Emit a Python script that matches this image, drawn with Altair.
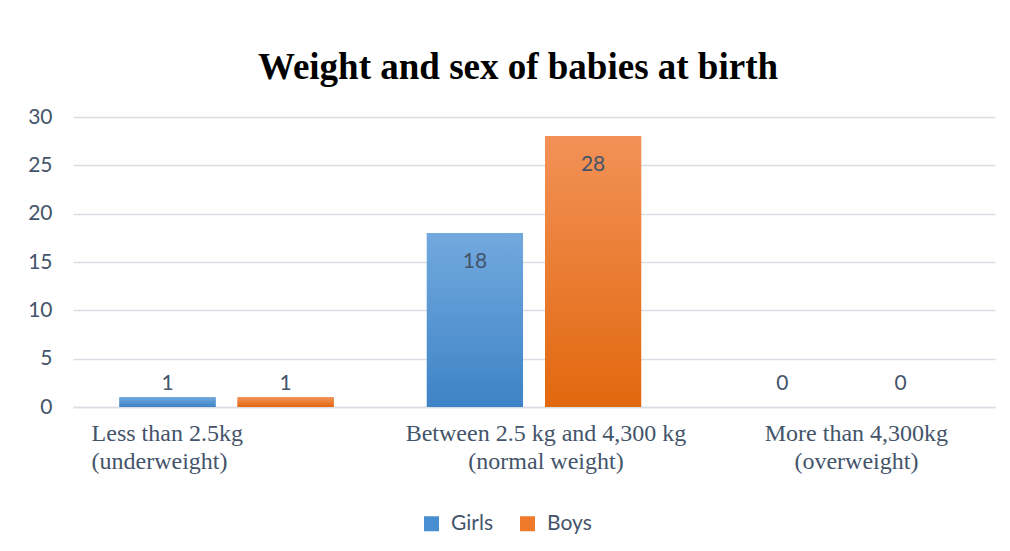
import altair as alt
import pandas as pd

# ---- data ----
categories = [
    "Less than 2.5kg\n(underweight)",
    "Between 2.5 kg and 4,300 kg\n(normal weight)",
    "More than 4,300kg\n(overweight)",
]
series = ["Girls", "Boys"]
girls = [1, 18, 0]
boys = [1, 28, 0]
y_ticks = [0, 5, 10, 15, 20, 25, 30]

rows = []
for c, g, b in zip(categories, girls, boys):
    rows.append({"category": c, "sex": "Girls", "count": g})
    rows.append({"category": c, "sex": "Boys", "count": b})
df = pd.DataFrame(rows)

SLATE = "#44546A"
GRID = "#D9DDE4"

blue_grad = alt.Gradient(
    gradient="linear", x1=0, x2=0, y1=0, y2=1,
    stops=[alt.GradientStop(color="#72A9DE", offset=0),
           alt.GradientStop(color="#3E83C6", offset=1)],
)
orange_grad = alt.Gradient(
    gradient="linear", x1=0, x2=0, y1=0, y2=1,
    stops=[alt.GradientStop(color="#F29157", offset=0),
           alt.GradientStop(color="#E2680E", offset=1)],
)

x_axis = alt.Axis(
    title=None,
    ticks=False,
    tickSize=0,
    domain=True,
    domainColor=GRID,
    domainWidth=1.3,
    labelFont="Liberation Serif",
    labelFontSize=24,
    labelColor=SLATE,
    labelPadding=14,
    labelBaseline="top",
    labelLineHeight=28,
    labelLimit=400,
    labelOverlap=False,
    labelBound=False,
    labelAngle=0,
    labelExpr="split(datum.label, '\\n')",
    labelAlign={
        "condition": {"test": "indexof(datum.value, 'Less') === 0", "value": "left"},
        "value": "center",
    },
    labelOffset={
        "condition": [
            {"test": "indexof(datum.value, 'Less') === 0", "value": -135},
            {"test": "indexof(datum.value, 'More') === 0", "value": 15},
        ],
        "value": 12,
    },
)

y_axis = alt.Axis(
    title=None,
    values=y_ticks,
    grid=True,
    gridColor=GRID,
    gridWidth=1.3,
    domain=False,
    ticks=False,
    labelFont="Lato",
    labelFontSize=21,
    labelColor=SLATE,
    labelPadding=21,
)

x_enc = alt.X("category:N", sort=categories,
              scale=alt.Scale(paddingInner=0.303, paddingOuter=0.151),
              axis=x_axis)
xo_enc = alt.XOffset("sex:N", sort=series,
                     scale=alt.Scale(paddingInner=0.186, paddingOuter=0))
y_enc = alt.Y("count:Q", scale=alt.Scale(domain=[0, 30], nice=False),
              axis=y_axis)

base = alt.Chart(df)

solid = base.mark_bar().encode(
    x=x_enc,
    xOffset=xo_enc,
    y=y_enc,
    color=alt.Color(
        "sex:N",
        sort=series,
        scale=alt.Scale(domain=series, range=["#4A8ED2", "#EE7A2A"]),
        legend=alt.Legend(
            title=None,
            orient="none",
            legendX=348,
            legendY=396,
            direction="horizontal",
            symbolType="square",
            symbolSize=225,
            symbolStrokeWidth=0,
            labelFont="Lato",
            labelFontSize=21,
            labelColor=SLATE,
            labelOffset=9,
            columnPadding=24,
            padding=0,
        ),
    ),
)

grad = base.mark_bar().encode(
    x=x_enc,
    xOffset=xo_enc,
    y=y_enc,
    fill=alt.condition("datum.sex === 'Girls'", alt.value(blue_grad), alt.value(orange_grad)),
)

big_labels = base.transform_filter("datum.count >= 5").mark_text(
    font="Lato", fontSize=21, color=SLATE, baseline="middle", dy=29
).encode(
    x=x_enc, xOffset=xo_enc, y=y_enc, text=alt.Text("count:Q")
)

small_labels = base.transform_filter("datum.count < 5").mark_text(
    font="Lato", fontSize=21, color=SLATE, baseline="middle", dy=-23
).encode(
    x=x_enc, xOffset=xo_enc, y=alt.datum(0), text=alt.Text("count:Q")
)

chart = alt.layer(solid, grad, big_labels, small_labels).properties(
    width=922,
    height=290,
    title=alt.TitleParams(
        "Weight and sex of babies at birth",
        font="Liberation Serif",
        fontSize=37,
        fontWeight="bold",
        color="black",
        anchor="middle",
        baseline="alphabetic",
        dx=-16,
        dy=40,
        offset=30,
    ),
    autosize=alt.AutoSizeParams(type="none"),
    padding={"left": 65, "top": 109, "right": 5, "bottom": 133},
    background="white",
).configure_view(strokeWidth=0)

chart.save("out.html", embed_options={"renderer": "svg", "actions": False})
